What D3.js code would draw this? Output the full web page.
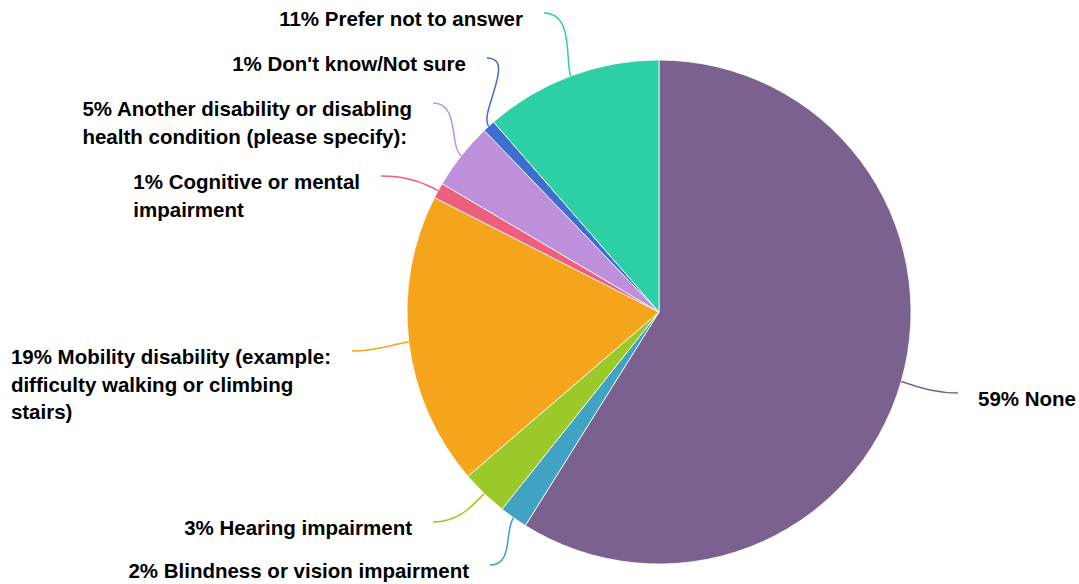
<!DOCTYPE html>
<html>
<head>
<meta charset="utf-8">
<script src="https://cdn.jsdelivr.net/npm/d3@7"></script>
<style>
  html, body { margin: 0; padding: 0; background: #fff; }
  svg { display: block; }
  text { font-family: "Liberation Sans", Arial, sans-serif; font-weight: 700; font-size: 20.5px; fill: #000; }
</style>
</head>
<body>
<svg id="chart" width="1079" height="584"></svg>
<script>
// ---- data ----
const categories = [
  "None",
  "Blindness or vision impairment",
  "Hearing impairment",
  "Mobility disability (example: difficulty walking or climbing stairs)",
  "Cognitive or mental impairment",
  "Another disability or disabling health condition (please specify):",
  "Don't know/Not sure",
  "Prefer not to answer"
];
const values = [58.9, 1.8, 3.0, 18.8, 1.0, 4.3, 0.8, 11.4];
const percentLabels = ["59%", "2%", "3%", "19%", "1%", "5%", "1%", "11%"];
const labelLines = [
  ["59% None"],
  ["2% Blindness or vision impairment"],
  ["3% Hearing impairment"],
  ["19% Mobility disability (example:", "difficulty walking or climbing", "stairs)"],
  ["1% Cognitive or mental", "impairment"],
  ["5% Another disability or disabling", "health condition (please specify):"],
  ["1% Don't know/Not sure"],
  ["11% Prefer not to answer"]
];
const colors = ["#7b6190", "#41a3c4", "#9bc92a", "#f4a51b", "#ee5f7d", "#be8fda", "#3e6fcf", "#2dcfa4"];

// ---- layout (annotation anchors, where each leader line ends) ----
const labelAnchors = [[958, 393], [490, 565], [433, 522], [352, 351], [381, 176], [433, 103], [487, 58], [544, 13]];

const cx = 659, cy = 312, R = 252;
const svg = d3.select("#chart");
const g = svg.append("g").attr("transform", `translate(${cx},${cy})`);

const data = categories.map((c, i) => ({ name: c, value: values[i], color: colors[i], lines: labelLines[i], anchor: labelAnchors[i] }));
const pie = d3.pie().sort(null).value(d => d.value);
const arcs = pie(data);
const arc = d3.arc().innerRadius(0).outerRadius(R);

g.selectAll("path.slice").data(arcs).enter().append("path")
  .attr("class", "slice")
  .attr("d", arc)
  .attr("fill", d => d.data.color)
  .attr("stroke", "#fff")
  .attr("stroke-width", 0.8);

// leader lines
arcs.forEach(a => {
  const mid = (a.startAngle + a.endAngle) / 2;
  const ux = Math.sin(mid), uy = -Math.cos(mid);
  const p0 = [cx + R * ux, cy + R * uy];
  const p1 = [cx + (R + 16) * ux, cy + (R + 16) * uy];
  const [lx, ly] = a.data.anchor;
  const right = lx > cx;
  const dist = Math.hypot(lx - p0[0], ly - p0[1]);
  const p2 = [lx + (right ? -1 : 1) * Math.min(30, dist * 0.45), ly];
  const path = d3.path();
  path.moveTo(p0[0], p0[1]);
  path.bezierCurveTo(p1[0], p1[1], p2[0], p2[1], lx, ly);
  svg.append("path")
    .attr("d", path.toString())
    .attr("fill", "none")
    .attr("stroke", a.data.color)
    .attr("stroke-width", 1.5);

  const t = svg.append("text");
  a.data.lines.forEach((ln, j) => {
    t.append("tspan").attr("x", 0).attr("y", j * 27.5).text(ln);
  });
  let maxW = 0;
  t.selectAll("tspan").each(function () { maxW = Math.max(maxW, this.getComputedTextLength()); });
  const tx = right ? lx + 20 : lx - 21 - maxW;
  t.attr("transform", `translate(${tx},${ly + 13})`);
});
</script>
</body>
</html>
